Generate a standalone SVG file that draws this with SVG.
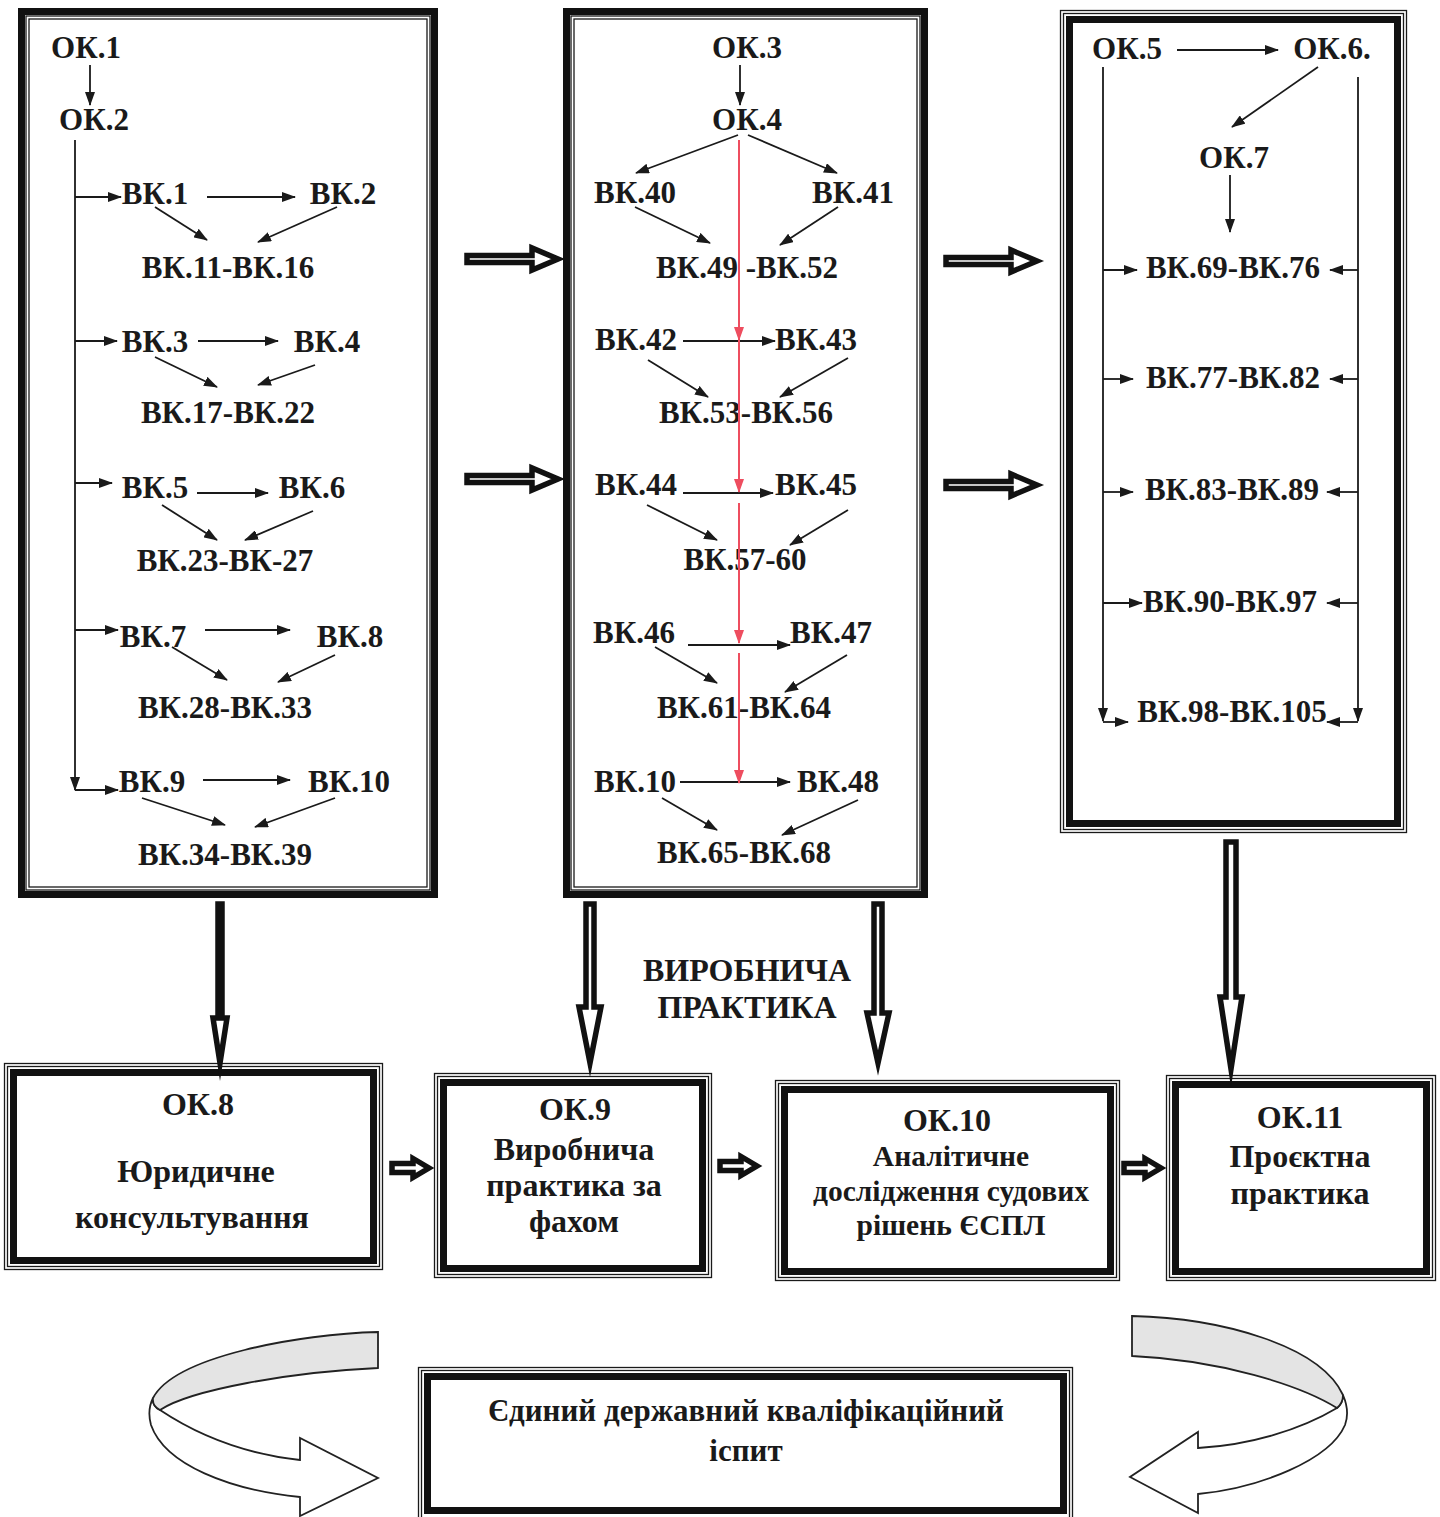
<svg xmlns="http://www.w3.org/2000/svg" width="1440" height="1517" viewBox="0 0 1440 1517">
<style>
.t{font-family:'Liberation Serif','Times New Roman',serif;font-weight:700;font-size:31px;fill:#1a1a1a;text-anchor:middle}
.s32{font-size:32px}
.s29{font-size:29.5px}
.c{stroke:#1a1a1a;stroke-width:1.8;fill:none;marker-end:url(#ah)}
.r{stroke:#ee4d5f;stroke-width:2;fill:none;marker-end:url(#ahr)}
.thin{fill:none;stroke:#1a1a1a;stroke-width:1.3}
.thick{fill:none;stroke:#111;stroke-width:7}
.blk{fill:#fff;stroke:#111;stroke-width:5.5;stroke-linejoin:miter;stroke-miterlimit:10}
.face{fill:#e4e4e4;stroke:#222;stroke-width:1.8}
.under{fill:#fff;stroke:#222;stroke-width:1.8}
</style>
<defs>
<marker id="ah" viewBox="0 0 14 10" refX="13" refY="5" markerWidth="14" markerHeight="10" markerUnits="userSpaceOnUse" orient="auto"><path d="M0,0 L14,5 L0,10 z" fill="#1a1a1a"/></marker>
<marker id="ahr" viewBox="0 0 14 10" refX="13" refY="5" markerWidth="14" markerHeight="10" markerUnits="userSpaceOnUse" orient="auto"><path d="M0,0 L14,5 L0,10 z" fill="#ee4d5f"/></marker>
<path id="harrow" d="M0,-3.5 L65,-3.5 L65,-11 L91,0 L65,11 L65,3.5 L0,3.5 Z"/>
<path id="hsmall" d="M0,-4.5 L21,-4.5 L21,-9.5 L37,0 L21,9.5 L21,4.5 L0,4.5 Z"/>
</defs>
<rect width="1440" height="1517" fill="#fff"/>

<g id="col-left">
<rect class="thick" x="21.5" y="11.5" width="413" height="883"/>
<rect class="thin" x="26" y="16" width="404" height="874"/>
<rect class="thin" x="29" y="19" width="398" height="868"/>
<text class="t" x="86" y="58">ОК.1</text>
<text class="t" x="94" y="130">ОК.2</text>
<text class="t" x="155" y="204">ВК.1</text>
<text class="t" x="343" y="204">ВК.2</text>
<text class="t" x="228" y="278">ВК.11-ВК.16</text>
<text class="t" x="155" y="352">ВК.3</text>
<text class="t" x="327" y="352">ВК.4</text>
<text class="t" x="228" y="423">ВК.17-ВК.22</text>
<text class="t" x="155" y="498">ВК.5</text>
<text class="t" x="312" y="498">ВК.6</text>
<text class="t" x="225" y="571">ВК.23-ВК-27</text>
<text class="t" x="153" y="647">ВК.7</text>
<text class="t" x="350" y="647">ВК.8</text>
<text class="t" x="225" y="718">ВК.28-ВК.33</text>
<text class="t" x="152" y="792">ВК.9</text>
<text class="t" x="349" y="792">ВК.10</text>
<text class="t" x="225" y="865">ВК.34-ВК.39</text>
</g>

<g id="col-middle">
<rect class="thick" x="566.5" y="11.5" width="358" height="883"/>
<rect class="thin" x="571" y="16" width="349" height="874"/>
<rect class="thin" x="574" y="19" width="343" height="868"/>
<text class="t" x="747" y="58">ОК.3</text>
<text class="t" x="747" y="130">ОК.4</text>
<text class="t" x="635" y="203">ВК.40</text>
<text class="t" x="853" y="203">ВК.41</text>
<text class="t" x="747" y="278">ВК.49 -ВК.52</text>
<text class="t" x="636" y="350">ВК.42</text>
<text class="t" x="816" y="350">ВК.43</text>
<text class="t" x="746" y="423">ВК.53-ВК.56</text>
<text class="t" x="636" y="495">ВК.44</text>
<text class="t" x="816" y="495">ВК.45</text>
<text class="t" x="745" y="570">ВК.57-60</text>
<text class="t" x="634" y="643">ВК.46</text>
<text class="t" x="831" y="643">ВК.47</text>
<text class="t" x="744" y="718">ВК.61-ВК.64</text>
<text class="t" x="635" y="792">ВК.10</text>
<text class="t" x="838" y="792">ВК.48</text>
<text class="t" x="744" y="863">ВК.65-ВК.68</text>
</g>

<g id="col-right">
<rect class="thin" x="1060.5" y="10.5" width="346" height="822"/>
<rect class="thin" x="1063.5" y="13.5" width="340" height="816"/>
<rect class="thick" x="1069.5" y="19.5" width="328" height="804"/>
<text class="t" x="1127" y="59">ОК.5</text>
<text class="t" x="1332" y="59">ОК.6.</text>
<text class="t" x="1234" y="168">ОК.7</text>
<text class="t" x="1233" y="278">ВК.69-ВК.76</text>
<text class="t" x="1233" y="388">ВК.77-ВК.82</text>
<text class="t" x="1232" y="500">ВК.83-ВК.89</text>
<text class="t" x="1230" y="612">ВК.90-ВК.97</text>
<text class="t" x="1232" y="722">ВК.98-ВК.105</text>
</g>

<g id="ok8">
<rect class="thin" x="4.5" y="1063.5" width="378" height="206"/>
<rect class="thin" x="7.5" y="1066.5" width="372" height="200"/>
<rect class="thick" x="13.5" y="1072.5" width="360" height="188"/>
<text class="t s32" x="198" y="1115">ОК.8</text>
<text class="t s32" x="196" y="1182">Юридичне</text>
<text class="t s32" x="192" y="1228">консультування</text>
</g>
<g id="ok9">
<rect class="thin" x="434.5" y="1073.5" width="277" height="204"/>
<rect class="thin" x="437.5" y="1076.5" width="271" height="198"/>
<rect class="thick" x="443.5" y="1082.5" width="259" height="186"/>
<text class="t s32" x="575" y="1120">ОК.9</text>
<text class="t s32" x="574" y="1160">Виробнича</text>
<text class="t s32" x="574" y="1196">практика за</text>
<text class="t s32" x="574" y="1232">фахом</text>
</g>
<g id="ok10">
<rect class="thin" x="775.5" y="1080.5" width="344" height="200"/>
<rect class="thin" x="778.5" y="1083.5" width="338" height="194"/>
<rect class="thick" x="784.5" y="1089.5" width="326" height="182"/>
<text class="t s32" x="947" y="1131">ОК.10</text>
<text class="t s29" x="951" y="1166">Аналітичне</text>
<text class="t s29" x="951" y="1201">дослідження судових</text>
<text class="t s29" x="951" y="1235">рішень ЄСПЛ</text>
</g>
<g id="ok11">
<rect class="thin" x="1166.5" y="1075.5" width="269" height="205"/>
<rect class="thin" x="1169.5" y="1078.5" width="263" height="199"/>
<rect class="thick" x="1175.5" y="1084.5" width="251" height="187"/>
<text class="t s32" x="1300" y="1128">ОК.11</text>
<text class="t s32" x="1300" y="1167">Проєктна</text>
<text class="t s32" x="1300" y="1204">практика</text>
</g>
<g id="exam">
<rect class="thin" x="418.5" y="1367.5" width="654" height="160"/>
<rect class="thin" x="421.5" y="1370.5" width="648" height="160"/>
<rect class="thick" x="427.5" y="1376.5" width="636" height="134"/>
<text class="t" x="746" y="1421">Єдиний державний кваліфікаційний</text>
<text class="t" x="746" y="1461">іспит</text>
</g>

<g id="label-practice">
<text class="t s32" x="747" y="981">ВИРОБНИЧА</text>
<text class="t s32" x="747" y="1018">ПРАКТИКА</text>
</g>

<g id="connectors">
<line class="c" x1="90" y1="65" x2="90" y2="105"/>
<line class="c" x1="75" y1="140" x2="75" y2="790"/>
<line class="c" x1="75" y1="790" x2="118" y2="790"/>
<line class="c" x1="75" y1="197" x2="121" y2="197"/>
<line class="c" x1="75" y1="341" x2="117" y2="341"/>
<line class="c" x1="75" y1="483" x2="112" y2="483"/>
<line class="c" x1="75" y1="630" x2="118" y2="630"/>
<line class="c" x1="207" y1="197" x2="295" y2="197"/>
<line class="c" x1="198" y1="341" x2="278" y2="341"/>
<line class="c" x1="197" y1="493" x2="268" y2="493"/>
<line class="c" x1="205" y1="630" x2="290" y2="630"/>
<line class="c" x1="203" y1="780" x2="290" y2="780"/>
<line class="c" x1="155" y1="207" x2="207" y2="240"/>
<line class="c" x1="337" y1="207" x2="258" y2="242"/>
<line class="c" x1="155" y1="357" x2="217" y2="387"/>
<line class="c" x1="315" y1="365" x2="258" y2="385"/>
<line class="c" x1="162" y1="505" x2="217" y2="540"/>
<line class="c" x1="313" y1="511" x2="245" y2="540"/>
<line class="c" x1="172" y1="647" x2="227" y2="680"/>
<line class="c" x1="335" y1="655" x2="278" y2="682"/>
<line class="c" x1="142" y1="798" x2="225" y2="825"/>
<line class="c" x1="335" y1="798" x2="255" y2="827"/>
<line class="c" x1="740" y1="65" x2="740" y2="105"/>
<line class="c" x1="738" y1="135" x2="636" y2="173"/>
<line class="c" x1="748" y1="135" x2="837" y2="173"/>
<line class="c" x1="635" y1="207" x2="710" y2="243"/>
<line class="c" x1="838" y1="207" x2="780" y2="245"/>
<line class="c" x1="683" y1="341" x2="775" y2="341"/>
<line class="c" x1="648" y1="360" x2="708" y2="397"/>
<line class="c" x1="848" y1="358" x2="780" y2="397"/>
<line class="c" x1="683" y1="493" x2="773" y2="493"/>
<line class="c" x1="647" y1="505" x2="717" y2="540"/>
<line class="c" x1="848" y1="510" x2="790" y2="545"/>
<line class="c" x1="688" y1="645" x2="790" y2="645"/>
<line class="c" x1="655" y1="647" x2="717" y2="683"/>
<line class="c" x1="847" y1="655" x2="785" y2="692"/>
<line class="c" x1="680" y1="782" x2="790" y2="782"/>
<line class="c" x1="662" y1="798" x2="717" y2="830"/>
<line class="c" x1="858" y1="800" x2="782" y2="835"/>
<line class="r" x1="739" y1="140" x2="739" y2="340"/>
<line class="r" x1="739" y1="340" x2="739" y2="492"/>
<line class="r" x1="739" y1="503" x2="739" y2="643"/>
<line class="r" x1="739" y1="653" x2="739" y2="783"/>
<line class="c" x1="1177" y1="50" x2="1278" y2="50"/>
<line class="c" x1="1318" y1="67" x2="1232" y2="127"/>
<line class="c" x1="1230" y1="175" x2="1230" y2="232"/>
<line class="c" x1="1103" y1="67" x2="1103" y2="721"/>
<line class="c" x1="1103" y1="722" x2="1128" y2="722"/>
<line class="c" x1="1358" y1="77" x2="1358" y2="721"/>
<line class="c" x1="1358" y1="722" x2="1327" y2="722"/>
<line class="c" x1="1103" y1="270" x2="1137" y2="270"/>
<line class="c" x1="1103" y1="379" x2="1133" y2="379"/>
<line class="c" x1="1103" y1="492" x2="1133" y2="492"/>
<line class="c" x1="1103" y1="603" x2="1142" y2="603"/>
<line class="c" x1="1358" y1="270" x2="1330" y2="270"/>
<line class="c" x1="1358" y1="379" x2="1330" y2="379"/>
<line class="c" x1="1358" y1="492" x2="1327" y2="492"/>
<line class="c" x1="1358" y1="603" x2="1327" y2="603"/>
<use href="#harrow" class="blk" x="467" y="259"/>
<use href="#harrow" class="blk" x="467" y="479"/>
<use href="#harrow" class="blk" x="946" y="261"/>
<use href="#harrow" class="blk" x="946" y="485"/>
<path class="blk" d="M218,904 L222,904 L222,1018 L227,1018 L220,1063 L213,1018 L218,1018 Z"/>
<path class="blk" d="M586,904 L594,904 L594,1007 L601,1007 L590,1063 L579,1007 L586,1007 Z"/>
<path class="blk" d="M874,904 L882,904 L882,1013 L889,1013 L878,1063 L867,1013 L874,1013 Z"/>
<path class="blk" d="M1226,842 L1236,842 L1236,997 L1242,997 L1231,1069 L1220,997 L1226,997 Z"/>
<use href="#hsmall" class="blk" x="392" y="1168"/>
<use href="#hsmall" class="blk" x="720" y="1166"/>
<use href="#hsmall" class="blk" x="1124" y="1168"/>
<path class="under" d="M160,1410 C205,1440 255,1455 300,1460 L300,1438 L378,1478 L300,1516 L300,1497 C230,1490 165,1465 151,1425 C148,1414 150,1404 153,1398 Q152,1406 160,1410 Z"/>
<path class="face" d="M378,1332 C300,1334 175,1356 153,1398 Q152,1406 160,1410 C190,1390 290,1372 378,1368 Z"/>
<path class="under" d="M1337,1408 C1300,1430 1250,1445 1198,1448 L1198,1432 L1130,1477 L1198,1513 L1198,1494 C1260,1488 1330,1460 1345,1425 C1349,1414 1346,1402 1343,1395 Q1343,1403 1337,1408 Z"/>
<path class="face" d="M1132,1316 C1220,1318 1320,1345 1343,1395 Q1343,1403 1337,1408 C1300,1385 1220,1360 1132,1356 Z"/>
</g>
</svg>
